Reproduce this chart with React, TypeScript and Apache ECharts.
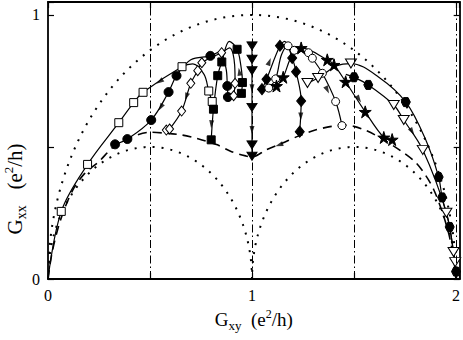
import React, { useEffect, useRef } from 'react';
import * as echarts from 'echarts';

// ---- axes ----
const X_MIN = 0;
const X_MAX = 2.018;
const Y_MIN = 0;
const Y_MAX = 1.049;
const TICK_STEP = 0.5;
const X_TICK_LABELS = [0, 1, 2];
const Y_TICK_LABELS = [0, 1];
const GUIDE_X = [0.5, 1, 1.5, 2];

// semicircle guides: [centre x, radius]
const SEMICIRCLES = [
  [1, 1],
  [0.5, 0.5],
  [1.5, 0.5],
];

// dashed curve
const DASHED_CURVE = [
  [0, 0], [0.02, 0.1], [0.06, 0.22], [0.12, 0.335], [0.18, 0.4], [0.25, 0.445],
  [0.32, 0.5], [0.4, 0.535], [0.5, 0.556], [0.58, 0.552], [0.66, 0.545], [0.73, 0.532],
  [0.83, 0.508], [0.9, 0.482], [0.97, 0.466], [1.0, 0.462], [1.07, 0.489], [1.15, 0.515],
  [1.23, 0.542], [1.31, 0.564], [1.39, 0.578], [1.45, 0.583], [1.5, 0.578], [1.56, 0.562],
  [1.64, 0.53], [1.73, 0.485], [1.8, 0.443], [1.85, 0.394], [1.89, 0.34], [1.93, 0.26],
  [1.965, 0.17], [1.99, 0.07], [2.0, 0],
];

// flow lines: [x, y, marker] ('' = no marker)
const FLOW_OPEN_SQUARES = [
  [0, 0, ''], [0.065, 0.256, 'osq'], [0.194, 0.434, 'osq'], [0.347, 0.592, 'osq'],
  [0.42, 0.668, 'osq'], [0.466, 0.707, 'osq'], [0.657, 0.804, 'osq'], [0.71, 0.815, ''],
  [0.765, 0.775, ''], [0.788, 0.712, 'osq'], [0.805, 0.672, 'osq'],
];
const FLOW_FILLED_CIRCLES = [
  [0.329, 0.51, 'fci'], [0.389, 0.53, 'fci'], [0.506, 0.602, 'fci'], [0.591, 0.708, 'fci'],
  [0.63, 0.77, 'fci'], [0.7, 0.83, ''], [0.796, 0.845, 'fci'], [0.84, 0.86, ''],
  [0.872, 0.8, ''], [0.879, 0.731, 'fci'], [0.882, 0.689, 'fci'],
];
const FLOW_OPEN_DIAMONDS = [
  [0.58, 0.564, 'odi'], [0.596, 0.568, 'odi'], [0.655, 0.636, 'odi'], [0.7, 0.741, 'odi'],
  [0.734, 0.789, 'odi'], [0.754, 0.819, 'odi'], [0.851, 0.857, 'odi'], [0.89, 0.875, ''],
  [0.915, 0.81, ''], [0.917, 0.741, 'odi'], [0.91, 0.694, 'odi'],
];
const FLOW_FILLED_SQUARES = [
  [0.8, 0.527, 'fsq'], [0.811, 0.643, 'fsq'], [0.832, 0.77, 'fsq'], [0.852, 0.822, 'fsq'],
  [0.889, 0.9, ''], [0.927, 0.87, 'fsq'], [0.945, 0.81, ''], [0.953, 0.744, 'fsq'],
  [0.948, 0.703, 'fsq'],
];
const FLOW_CENTRE = [
  [1.0, 0.883, 'ftri'], [1.0, 0.832, 'ftri'], [1.0, 0.789, 'ftri'], [1.0, 0.65, 'ftri'],
  [1.0, 0.508, 'ftri'], [1.0, 0.465, 'ftri'],
];
const FLOW_FILLED_DIAMONDS = [
  [1.049, 0.719, 'fdi'], [1.071, 0.756, 'fdi'], [1.137, 0.883, 'fdi'], [1.16, 0.9, ''],
  [1.197, 0.837, 'fdi'], [1.216, 0.785, 'fdi'], [1.241, 0.674, 'fdi'], [1.234, 0.558, 'fdi'],
];
const FLOW_OPEN_CIRCLES = [
  [1.082, 0.723, 'oci'], [1.116, 0.758, 'oci'], [1.145, 0.85, ''], [1.177, 0.883, 'oci'],
  [1.207, 0.866, 'oci'], [1.277, 0.857, 'oci'], [1.296, 0.836, 'oci'], [1.345, 0.779, 'oci'],
  [1.41, 0.672, 'oci'], [1.441, 0.581, 'oci'],
];
const FLOW_STARS = [
  [1.12, 0.731, 'star'], [1.153, 0.764, 'star'], [1.195, 0.845, ''], [1.241, 0.875, 'star'],
  [1.369, 0.83, 'star'], [1.402, 0.811, 'star'], [1.459, 0.747, 'star'], [1.555, 0.633, 'star'],
  [1.646, 0.536, 'star'], [1.687, 0.528, 'star'],
];
const FLOW_OUTER_RIGHT = [
  [1.272, 0.742, 'otri'], [1.324, 0.761, 'otri'], [1.417, 0.808, ''], [1.485, 0.816, 'otri'],
  [1.62, 0.765, ''], [1.754, 0.67, 'hex'], [1.85, 0.53, ''], [1.915, 0.386, 'hex'],
  [1.932, 0.309, 'hex'], [1.969, 0.197, 'hex'], [2.0, 0.028, 'hex'], [2.003, 0, ''],
];
const FLOW_INNER_RIGHT = [
  [1.46, 0.775, ''], [1.5, 0.764, 'hex'], [1.57, 0.735, 'hex'], [1.695, 0.659, 'otri'],
  [1.744, 0.602, 'otri'], [1.837, 0.489, 'otri'], [1.953, 0.251, 'otri'], [1.988, 0.102, 'otri'],
  [1.996, 0.064, 'otri'], [2.0, 0, ''],
];

// flow arrows: [x, y, rotation in degrees]
const ARROWS = [
  [0.547, 0.748, 123], [0.552, 0.65, 148], [0.678, 0.69, 161], [0.801, 0.586, 176],
  [0.938, 0.785, 9], [1.0, 0.722, 180], [1.0, 0.564, 180], [1.133, 0.508, 109],
  [1.085, 0.823, -21], [1.239, 0.615, 180], [1.369, 0.716, -154], [1.524, 0.681, -147],
  [1.785, 0.558, -148],
];

const STAR = 'path://M50,0 L61,35 L98,35 L68,57 L79,91 L50,70 L21,91 L32,57 L2,35 L39,35 Z';
const HEX = 'path://M25,0 L75,0 L100,43 L75,87 L25,87 L0,43 Z';

const MARKERS: Record<string, any> = {
  osq: { symbol: 'rect', size: 8, fill: '#fff' },
  fsq: { symbol: 'rect', size: 8, fill: '#000' },
  fci: { symbol: 'circle', size: 9, fill: '#000' },
  oci: { symbol: 'circle', size: 8, fill: '#fff' },
  odi: { symbol: 'diamond', size: [8, 10], fill: '#fff' },
  fdi: { symbol: 'diamond', size: [9, 11], fill: '#000' },
  ftri: { symbol: 'triangle', size: [10, 8], fill: '#000', rotate: 180 },
  otri: { symbol: 'triangle', size: [11, 9], fill: '#fff', rotate: 180 },
  star: { symbol: STAR, size: 12, fill: '#000' },
  hex: { symbol: HEX, size: 9, fill: '#000' },
};

const FLOWS = [
  FLOW_OPEN_SQUARES, FLOW_FILLED_CIRCLES, FLOW_OPEN_DIAMONDS, FLOW_FILLED_SQUARES,
  FLOW_CENTRE, FLOW_FILLED_DIAMONDS, FLOW_OPEN_CIRCLES, FLOW_STARS,
  FLOW_OUTER_RIGHT, FLOW_INNER_RIGHT,
];

const FONT = 'Liberation Serif';

function toItems(pts: any[]) {
  return pts.map(([x, y, m]) => {
    if (!m) return { value: [x, y], symbol: 'none' };
    const mk = MARKERS[m];
    return {
      value: [x, y],
      symbol: mk.symbol,
      symbolSize: mk.size,
      symbolRotate: mk.rotate || 0,
      itemStyle: { color: mk.fill, borderColor: '#000', borderWidth: 1 },
    };
  });
}

const richTitle = {
  b: { fontFamily: FONT, fontSize: 19, color: '#000', lineHeight: 24 },
  sub: { fontFamily: FONT, fontSize: 13, color: '#000', lineHeight: 12, verticalAlign: 'bottom' },
  sup: { fontFamily: FONT, fontSize: 12, color: '#000', lineHeight: 12, verticalAlign: 'top' },
};

export default function App() {
  const ref = useRef<HTMLDivElement>(null);
  useEffect(() => {
    if (!ref.current) return;
    const chart = echarts.init(ref.current, undefined, { renderer: 'svg' });
    const baseAxis = {
      type: 'value',
      interval: TICK_STEP,
      axisLine: { show: true, onZero: false, lineStyle: { color: '#000', width: 1.8 } },
      axisTick: { show: true, inside: true, length: 6, lineStyle: { color: '#000', width: 1.2 } },
      splitLine: { show: false },
    };
    const option: any = {
      animation: false,
      backgroundColor: '#fff',
      grid: { left: 48, right: 2, top: 2, bottom: 61, containLabel: false },
      xAxis: [
        {
          ...baseAxis,
          min: X_MIN,
          max: X_MAX,
          position: 'bottom',
          axisLabel: {
            show: true,
            margin: 8,
            fontFamily: FONT,
            fontSize: 16,
            color: '#000',
            formatter: (v: number) => (X_TICK_LABELS.includes(v) ? String(v) : ''),
          },
          name: '{b|G}{sub|xy}{b|  (e}{sup|2}{b|/h)}',
          nameLocation: 'middle',
          nameGap: 28,
          nameTextStyle: { rich: richTitle },
        },
        {
          ...baseAxis,
          min: X_MIN,
          max: X_MAX,
          position: 'top',
          axisLabel: { show: false },
        },
      ],
      yAxis: [
        {
          ...baseAxis,
          min: Y_MIN,
          max: Y_MAX,
          position: 'left',
          axisLabel: {
            show: true,
            margin: 8,
            fontFamily: FONT,
            fontSize: 16,
            color: '#000',
            formatter: (v: number) => (Y_TICK_LABELS.includes(v) ? String(v) : ''),
          },
        },
        {
          ...baseAxis,
          min: Y_MIN,
          max: Y_MAX,
          position: 'right',
          axisLabel: { show: false },
        },
      ],
      graphic: [
        {
          type: 'text',
          x: 15,
          y: 189,
          rotation: Math.PI / 2,
          style: {
            text: '{b|G}{sub|xx}{b|   (e}{sup|2}{b|/h)}',
            rich: {
              b: { fontFamily: FONT, fontSize: 21, fill: '#000', lineHeight: 26 },
              sub: { fontFamily: FONT, fontSize: 14, fill: '#000', lineHeight: 13, verticalAlign: 'bottom' },
              sup: { fontFamily: FONT, fontSize: 13, fill: '#000', lineHeight: 13, verticalAlign: 'top' },
            },
            align: 'center',
            verticalAlign: 'middle',
            fill: '#000',
          },
        },
      ],
      series: [
        {
          type: 'custom',
          data: SEMICIRCLES,
          clip: true,
          silent: true,
          z: 1,
          renderItem: (_p: any, api: any) => {
            const cx = api.value(0);
            const r = api.value(1);
            const pts: number[][] = [];
            const n = 120;
            for (let i = 0; i <= n; i++) {
              const t = (Math.PI * i) / n;
              pts.push(api.coord([cx + r * Math.cos(t), r * Math.sin(t)]));
            }
            return {
              type: 'polyline',
              shape: { points: pts },
              style: { fill: 'none', stroke: '#000', lineWidth: 2, lineDash: [2, 7] },
            };
          },
        },
        {
          type: 'line',
          data: DASHED_CURVE,
          smooth: 0.3,
          symbol: 'none',
          silent: true,
          z: 2,
          lineStyle: { color: '#000', width: 1.6, type: [9, 6] },
          markLine: {
            silent: true,
            symbol: 'none',
            label: { show: false },
            lineStyle: { color: '#000', width: 1, type: [8, 3, 1.5, 3] },
            data: GUIDE_X.map((x) => ({ xAxis: x })),
          },
        },
        ...FLOWS.map((f) => ({
          type: 'line',
          data: toItems(f),
          smooth: 0.35,
          showSymbol: true,
          showAllSymbol: true,
          silent: true,
          z: 3,
          lineStyle: { color: '#000', width: 1.2 },
        })),
        {
          type: 'scatter',
          data: ARROWS.map(([x, y, a]) => ({ value: [x, y], symbolRotate: a })),
          symbol: 'triangle',
          symbolSize: [5, 8],
          silent: true,
          z: 4,
          itemStyle: { color: '#000' },
        },
      ],
    };
    chart.setOption(option);
    return () => chart.dispose();
  }, []);
  return (
    <div
      ref={ref}
      style={{ position: 'absolute', left: 0, top: 0, width: 463, height: 340 }}
    />
  );
}
